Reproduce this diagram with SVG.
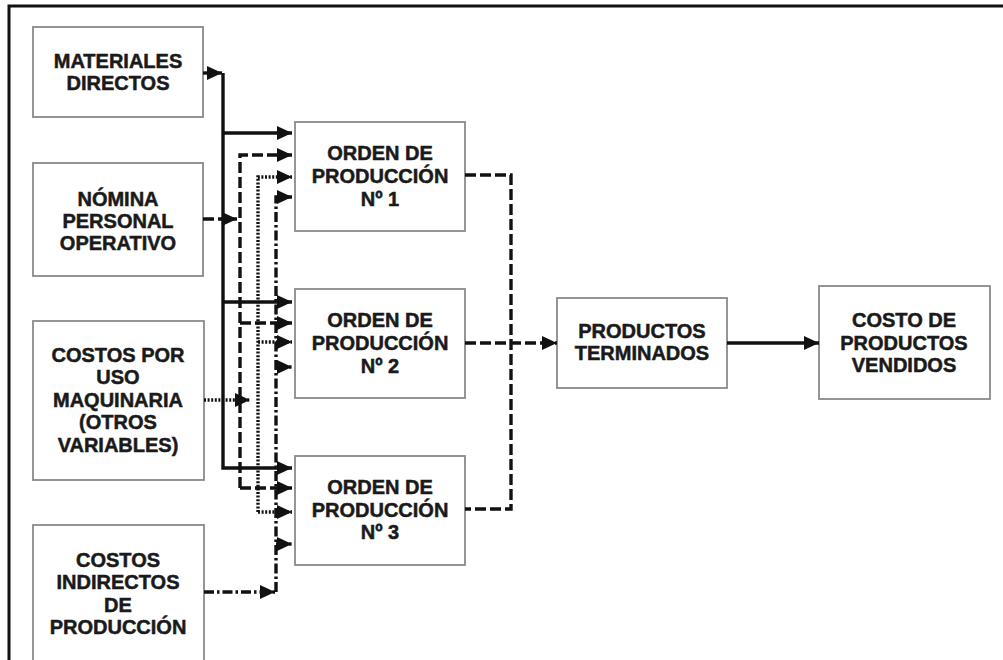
<svg xmlns="http://www.w3.org/2000/svg" width="1003" height="660" viewBox="0 0 1003 660">
<defs>
<style>
.box{fill:#fff;stroke:#8a8a8a;stroke-width:1.8}
.t{font-family:"Liberation Sans",Arial,sans-serif;font-weight:bold;font-size:20px;fill:#1a1a1a;stroke:#1a1a1a;stroke-width:0.5;text-anchor:middle}
.c{fill:none;stroke:#111;stroke-width:3.4}
.dash{stroke-dasharray:11 4}
.dot{stroke-dasharray:2 1.6}
.dd{stroke-dasharray:10 3 2.5 3}
</style>
<marker id="ah" markerUnits="userSpaceOnUse" markerWidth="15" markerHeight="14" refX="15" refY="7" orient="auto">
<path d="M0,0 L15,7 L0,14 z" fill="#111"/>
</marker>
</defs>
<rect width="1003" height="660" fill="#fff"/>
<path d="M9,660 V6 H1003" fill="none" stroke="#111" stroke-width="3"/>

<g id="materiales">
<rect class="box" x="33" y="27" width="170" height="90"/>
<text class="t" x="118" y="68">MATERIALES</text>
<text class="t" x="118" y="90">DIRECTOS</text>
</g>
<g id="nomina">
<rect class="box" x="33" y="163" width="170" height="113"/>
<text class="t" x="118" y="206">NÓMINA</text>
<text class="t" x="118" y="228">PERSONAL</text>
<text class="t" x="118" y="250">OPERATIVO</text>
</g>
<g id="maquinaria">
<rect class="box" x="33" y="321" width="171" height="159"/>
<text class="t" x="118" y="362">COSTOS POR</text>
<text class="t" x="118" y="384">USO</text>
<text class="t" x="118" y="407">MAQUINARIA</text>
<text class="t" x="118" y="429">(OTROS</text>
<text class="t" x="118" y="452">VARIABLES)</text>
</g>
<g id="indirectos">
<rect class="box" x="33" y="525" width="171" height="145"/>
<text class="t" x="118" y="567">COSTOS</text>
<text class="t" x="118" y="589">INDIRECTOS</text>
<text class="t" x="118" y="612">DE</text>
<text class="t" x="118" y="634">PRODUCCIÓN</text>
</g>
<g id="orden1">
<rect class="box" x="295" y="122" width="170" height="109"/>
<text class="t" x="380" y="160">ORDEN DE</text>
<text class="t" x="380" y="183">PRODUCCIÓN</text>
<text class="t" x="380" y="206">Nº 1</text>
</g>
<g id="orden2">
<rect class="box" x="295" y="289" width="170" height="109"/>
<text class="t" x="380" y="327">ORDEN DE</text>
<text class="t" x="380" y="350">PRODUCCIÓN</text>
<text class="t" x="380" y="373">Nº 2</text>
</g>
<g id="orden3">
<rect class="box" x="295" y="456" width="170" height="109"/>
<text class="t" x="380" y="494">ORDEN DE</text>
<text class="t" x="380" y="517">PRODUCCIÓN</text>
<text class="t" x="380" y="539">Nº 3</text>
</g>
<g id="terminados">
<rect class="box" x="557" y="298" width="170" height="90"/>
<text class="t" x="642" y="338">PRODUCTOS</text>
<text class="t" x="642" y="360">TERMINADOS</text>
</g>
<g id="vendidos">
<rect class="box" x="819" y="286" width="171" height="113"/>
<text class="t" x="904" y="327">COSTO DE</text>
<text class="t" x="904" y="350">PRODUCTOS</text>
<text class="t" x="904" y="372">VENDIDOS</text>
</g>

<g id="connectors">
<path class="c" d="M203,73 H222" marker-end="url(#ah)"/>
<path class="c" d="M223,73 V468 H292" marker-end="url(#ah)"/>
<path class="c" d="M223,133 H292" marker-end="url(#ah)"/>
<path class="c" d="M223,302 H292" marker-end="url(#ah)"/>

<path class="c dash" d="M203,219 H237" marker-end="url(#ah)"/>
<path class="c dash" d="M240,488 V155 H292" marker-end="url(#ah)"/>
<path class="c dash" d="M240,323 H292" marker-end="url(#ah)"/>
<path class="c dash" d="M240,488 H292" marker-end="url(#ah)"/>

<path class="c dot" d="M204,400 H250" marker-end="url(#ah)"/>
<path class="c dot" d="M258,512 V177 H292" marker-end="url(#ah)"/>
<path class="c dot" d="M258,342 H292" marker-end="url(#ah)"/>
<path class="c dot" d="M258,512 H292" marker-end="url(#ah)"/>

<path class="c dd" d="M204,592 H275" marker-end="url(#ah)"/>
<path class="c dd" d="M276,592 V197 H292" marker-end="url(#ah)"/>
<path class="c dd" d="M276,367 H292" marker-end="url(#ah)"/>
<path class="c dd" d="M276,544 H292" marker-end="url(#ah)"/>

<path class="c dash" d="M465,175 H511 V509 H465"/>
<path class="c dash" d="M465,343 H557" marker-end="url(#ah)"/>
<path class="c" d="M727,343 H819" marker-end="url(#ah)"/>
</g>
</svg>
